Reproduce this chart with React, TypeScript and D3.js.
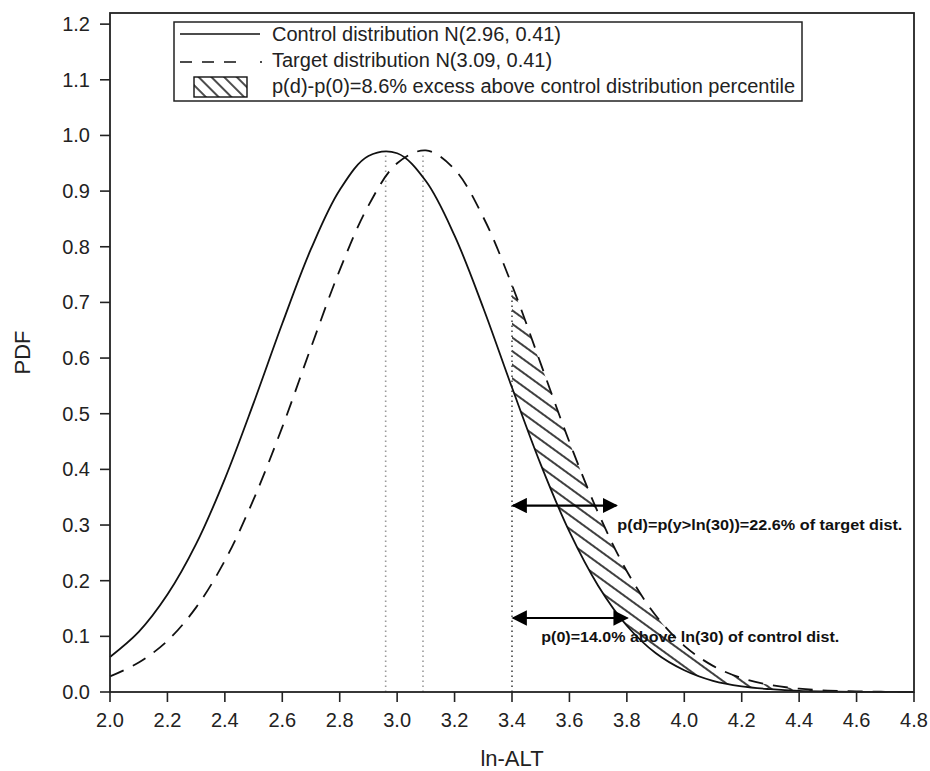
import React from 'react';
import * as d3 from 'd3';

// values (step 0.1 on ln-ALT)
const xValues = [2.0, 2.1, 2.2, 2.3, 2.4, 2.5, 2.6, 2.7, 2.8, 2.9, 3.0, 3.1, 3.2, 3.3, 3.4, 3.5, 3.6, 3.7, 3.8, 3.9, 4.0, 4.1, 4.2, 4.3, 4.4, 4.5, 4.6, 4.7, 4.8];
const controlPdf = [0.063, 0.108, 0.175, 0.266, 0.383, 0.519, 0.662, 0.796, 0.902, 0.963, 0.968, 0.918, 0.820, 0.690, 0.547, 0.409, 0.288, 0.191, 0.119, 0.070, 0.039, 0.020, 0.010, 0.005, 0.002, 0.001, 0.0003, 0.0001, 0.0];
const targetPdf = [0.028, 0.053, 0.092, 0.152, 0.236, 0.346, 0.476, 0.619, 0.758, 0.874, 0.950, 0.973, 0.939, 0.853, 0.731, 0.590, 0.449, 0.322, 0.217, 0.138, 0.083, 0.047, 0.025, 0.0125, 0.006, 0.0026, 0.0011, 0.0004, 0.0002];

const xTicks = [2.0, 2.2, 2.4, 2.6, 2.8, 3.0, 3.2, 3.4, 3.6, 3.8, 4.0, 4.2, 4.4, 4.6, 4.8];
const yTicks = [0.0, 0.1, 0.2, 0.3, 0.4, 0.5, 0.6, 0.7, 0.8, 0.9, 1.0, 1.1, 1.2];

const meanLines = [2.96, 3.09];
const meanTops = [0.968, 0.968];
const cutoff = 3.4;
const cutoffTop = 0.731;

const legendLabels = [
  'Control distribution N(2.96, 0.41)',
  'Target distribution N(3.09, 0.41)',
  'p(d)-p(0)=8.6% excess above control distribution percentile',
];

const annotationLabels = [
  'p(d)=p(y>ln(30))=22.6% of target dist.',
  'p(0)=14.0% above ln(30) of control dist.',
];
const arrowEnds = [3.767, 3.805];
const arrowLevels = [0.335, 0.133];
const labelStarts = [3.767, 3.502];
const labelLevels = [0.291, 0.09];
const labelWidths = [285, 298];

const W = 930;
const H = 771;
const margin = { top: 13, right: 16, bottom: 79, left: 110 };
const font = 'Arial, "Liberation Sans", Helvetica, sans-serif';

export default function App() {
  const x = d3.scaleLinear().domain([2.0, 4.8]).range([margin.left, W - margin.right]);
  const y = d3.scaleLinear().domain([0, 1.22]).range([H - margin.bottom, margin.top]);

  const pts = xValues.map((v, i) => ({ x: v, c: controlPdf[i], t: targetPdf[i] }));
  const controlLine = d3.line<any>().x(d => x(d.x)).y(d => y(d.c)).curve(d3.curveCatmullRom);
  const targetLine = d3.line<any>().x(d => x(d.x)).y(d => y(d.t)).curve(d3.curveCatmullRom);
  const excess = d3.area<any>()
    .x(d => x(d.x))
    .y0(d => y(d.c))
    .y1(d => y(d.t))
    .curve(d3.curveCatmullRom);
  const tail = pts.filter(d => d.x >= cutoff - 1e-9);

  const x0 = margin.left;
  const x1 = W - margin.right;
  const yb = H - margin.bottom;

  return (
    <svg width={W} height={H} style={{ position: 'absolute', left: 0, top: 0, background: '#fff' }}
      fontFamily={font}>
      <defs>
        <pattern id="hatch" patternUnits="userSpaceOnUse" width="11" height="11" patternTransform="rotate(36)">
          <line x1="0" y1="5" x2="11" y2="5" stroke="#000" strokeWidth="1.5" />
        </pattern>
        <pattern id="hatchLegend" patternUnits="userSpaceOnUse" width="9" height="9" patternTransform="rotate(45)">
          <line x1="0" y1="4" x2="9" y2="4" stroke="#000" strokeWidth="1.4" />
        </pattern>
        <marker id="head" viewBox="0 0 10 10" refX="9" refY="5" markerWidth="7" markerHeight="7" orient="auto-start-reverse" markerUnits="strokeWidth">
          <path d="M0,0 L10,5 L0,10 z" fill="#000" />
        </marker>
      </defs>

      {/* hatched excess area */}
      <path d={excess(tail) || ''} fill="url(#hatch)" stroke="none" />

      {/* dotted reference lines */}
      {meanLines.map((m, i) => (
        <line key={m} x1={x(m)} x2={x(m)} y1={yb} y2={y(meanTops[i])}
          stroke="#9a9a9a" strokeWidth={1.6} strokeDasharray="1.5 3.5" />
      ))}
      <line x1={x(cutoff)} x2={x(cutoff)} y1={yb} y2={y(cutoffTop)}
        stroke="#444" strokeWidth={1.6} strokeDasharray="1.5 3.5" />

      {/* curves */}
      <path d={controlLine(pts) || ''} fill="none" stroke="#111" strokeWidth={1.8} />
      <path d={targetLine(pts) || ''} fill="none" stroke="#111" strokeWidth={1.8} strokeDasharray="15 10" />

      {/* arrows and annotations */}
      {annotationLabels.map((lab, i) => (
        <g key={lab}>
          <line x1={x(cutoff) + 1} x2={x(arrowEnds[i]) - 1} y1={y(arrowLevels[i])} y2={y(arrowLevels[i])}
            stroke="#000" strokeWidth={2.2} markerStart="url(#head)" markerEnd="url(#head)" />
          <text x={x(labelStarts[i])} y={y(labelLevels[i])} fontSize={15} fontWeight="bold"
            textLength={labelWidths[i]} lengthAdjust="spacingAndGlyphs" fill="#111">{lab}</text>
        </g>
      ))}

      {/* frame */}
      <rect x={x0} y={margin.top} width={x1 - x0} height={yb - margin.top} fill="none" stroke="#222" strokeWidth={1.8} />

      {/* y axis ticks */}
      {yTicks.map(t => (
        <g key={t}>
          <line x1={x0 - 10} x2={x0} y1={y(t)} y2={y(t)} stroke="#222" strokeWidth={1.6} />
          <text x={x0 - 20} y={y(t)} dy="0.35em" textAnchor="end" fontSize={20} fill="#222">{t.toFixed(1)}</text>
        </g>
      ))}
      {/* x axis ticks */}
      {xTicks.map(t => (
        <g key={t}>
          <line x1={x(t)} x2={x(t)} y1={yb} y2={yb + 10} stroke="#222" strokeWidth={1.6} />
          <text x={x(t)} y={yb + 35} textAnchor="middle" fontSize={20} fill="#222">{t.toFixed(1)}</text>
        </g>
      ))}

      <text x={(x0 + x1) / 2} y={H - 5} textAnchor="middle" fontSize={22} fill="#222">ln-ALT</text>
      <text transform={`translate(30,${(margin.top + yb) / 2}) rotate(-90)`} textAnchor="middle" fontSize={22} fill="#222">PDF</text>

      {/* legend */}
      <g>
        <rect x={174} y={22} width={628} height={79} fill="#fff" stroke="#222" strokeWidth={1.5} />
        <line x1={180} x2={260} y1={34} y2={34} stroke="#111" strokeWidth={1.6} />
        <line x1={180} x2={262} y1={62} y2={62} stroke="#111" strokeWidth={1.6} strokeDasharray="12 10 12 10 12 24 2 100" />
        <rect x={194} y={77} width={53} height={20} fill="url(#hatchLegend)" stroke="#111" strokeWidth={1.4} />
        {legendLabels.map((lab, i) => (
          <text key={lab} x={272} y={41 + i * 26} fontSize={20} fill="#222">{lab}</text>
        ))}
      </g>
    </svg>
  );
}
